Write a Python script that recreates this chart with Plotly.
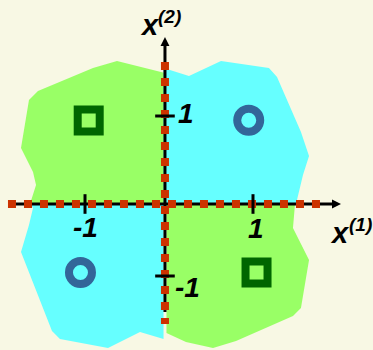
import plotly.graph_objects as go

# ---- data (data units) ----
green_x = [-0.048, -0.619, -0.905, -1.56, -1.667, -1.762, -1.619, -1.583, -1.655, -0.03, None,
           -0.03, 1.5, 1.476, 1.667, 1.571, 1.476, 0.798, 0.524, 0.202, -0.03]
green_y = [1.5375, 1.6875, 1.6, 1.3125, 1.2, 0.6, 0.3, 0.1375, -0.1, -0.1, None,
           -0.1, -0.1, -0.4, -0.8, -1.4, -1.5, -1.8125, -1.9, -1.825, -1.7125]
cyan_x = [-0.065, 0.238, 0.619, 1.19, 1.286, 1.571, 1.667, 1.595, 1.512, -0.065, None,
          -0.065, -1.655, -1.619, -1.667, -1.762, -1.393, -1.298, -0.726, -0.345, -0.065]
cyan_y = [1.6, 1.5, 1.6875, 1.6, 1.4875, 0.8, 0.5, 0.2625, -0.1, -0.1, None,
          -0.1, -0.1, -0.15, -0.3625, -0.7, -1.6875, -1.7875, -1.9, -1.7, -1.7875]

square_x = [-0.956, 1.042]
square_y = [0.944, -0.956]
circle_x = [0.949, -1.054]
circle_y = [0.947, -0.956]

axis_x0 = -0.048   # where the vertical axis crosses
axis_y0 = -0.1     # where the horizontal axis crosses
h_axis_x = [-1.893, 2.0]
h_arrow_tip = 2.048
v_axis_y = [-1.45, 1.94]
v_arrow_tip = 1.9875
h_dash_x = [-1.917, 1.81]
v_dash_y = [1.675, -1.6]

x_ticks = [-1, 1]
x_tick_labels = ["-1", "1"]
y_ticks = [1, -1]
y_tick_labels = ["1", "-1"]
x_axis_title = ("x", "(1)")
y_axis_title = ("x", "(2)")

BG = "#f8f8e4"
GREEN = "#99ff66"
CYAN = "#66ffff"
RED = "#cc3300"

fig = go.Figure()
fig.add_trace(go.Scatter(x=green_x, y=green_y, mode="none", fill="toself",
                         fillcolor=GREEN, hoverinfo="skip"))
fig.add_trace(go.Scatter(x=cyan_x, y=cyan_y, mode="none", fill="toself",
                         fillcolor=CYAN, hoverinfo="skip"))

# black axes
fig.add_trace(go.Scatter(x=h_axis_x, y=[axis_y0, axis_y0], mode="lines",
                         line=dict(color="black", width=3)))
fig.add_trace(go.Scatter(x=[axis_x0, axis_x0], y=v_axis_y, mode="lines",
                         line=dict(color="black", width=3)))
# arrow heads
fig.add_trace(go.Scatter(x=[h_arrow_tip], y=[axis_y0], mode="markers",
                         marker=dict(symbol="arrow-right", size=9, color="black",
                                     line=dict(width=0))))
fig.add_trace(go.Scatter(x=[axis_x0], y=[v_arrow_tip], mode="markers",
                         marker=dict(symbol="arrow-up", size=9, color="black",
                                     line=dict(width=0))))
# red dashed overlays
fig.add_trace(go.Scatter(x=h_dash_x, y=[axis_y0, axis_y0], mode="lines",
                         line=dict(color=RED, width=8, dash="8px,8px")))
fig.add_trace(go.Scatter(x=[axis_x0, axis_x0], y=v_dash_y, mode="lines",
                         line=dict(color=RED, width=8, dash="8px,8px")))
# tick marks
fig.add_trace(go.Scatter(x=x_ticks, y=[axis_y0] * len(x_ticks), mode="markers",
                         marker=dict(symbol="line-ns", size=14,
                                     line=dict(color="black", width=3))))
fig.add_trace(go.Scatter(x=[axis_x0] * len(y_ticks), y=y_ticks, mode="markers",
                         marker=dict(symbol="line-ew", size=14,
                                     line=dict(color="black", width=3))))
# data points
fig.add_trace(go.Scatter(x=square_x, y=square_y, mode="markers",
                         marker=dict(symbol="square-open", size=22, color="#006600",
                                     line=dict(width=8))))
fig.add_trace(go.Scatter(x=circle_x, y=circle_y, mode="markers",
                         marker=dict(symbol="circle-open", size=23, color="#336699",
                                     line=dict(width=8))))

FONT = "Liberation Sans, Arial, sans-serif"
def lab(text, x, y, size, xshift=0, yshift=0):
    fig.add_annotation(x=x, y=y, xref="x", yref="y", text=text, showarrow=False,
                       xanchor="center", yanchor="middle", xshift=xshift, yshift=yshift,
                       font=dict(family=FONT, size=size, color="black",
                                 weight="bold", style="italic"))

lab(x_tick_labels[0], x_ticks[0], axis_y0, 28, xshift=0, yshift=-23)
lab(x_tick_labels[1], x_ticks[1], axis_y0, 28, xshift=3, yshift=-24)
lab(y_tick_labels[0], axis_x0, y_ticks[0], 28, xshift=21, yshift=3)
lab(y_tick_labels[1], axis_x0, y_ticks[1], 28, xshift=23, yshift=-11)

# axis titles
lab(y_axis_title[0], axis_x0, v_arrow_tip, 29, xshift=-15, yshift=12)
lab(y_axis_title[1], axis_x0, v_arrow_tip, 19, xshift=5, yshift=21)
lab(x_axis_title[0], h_arrow_tip, axis_y0, 29, xshift=-1, yshift=-29)
lab(x_axis_title[1], h_arrow_tip, axis_y0, 19, xshift=19, yshift=-20)

fig.update_layout(
    width=373, height=350, margin=dict(l=0, r=0, t=0, b=0, pad=0, autoexpand=False),
    paper_bgcolor=BG, plot_bgcolor=BG, showlegend=False,
    xaxis=dict(visible=False, range=[-2.012, 2.4286], fixedrange=True),
    yaxis=dict(visible=False, range=[-1.925, 2.45], fixedrange=True),
)
fig.write_html("out.html",
               config={"displayModeBar": False, "staticPlot": True},
               post_script="document.body.style.margin='0px';"
                           "document.body.style.overflow='hidden';")
